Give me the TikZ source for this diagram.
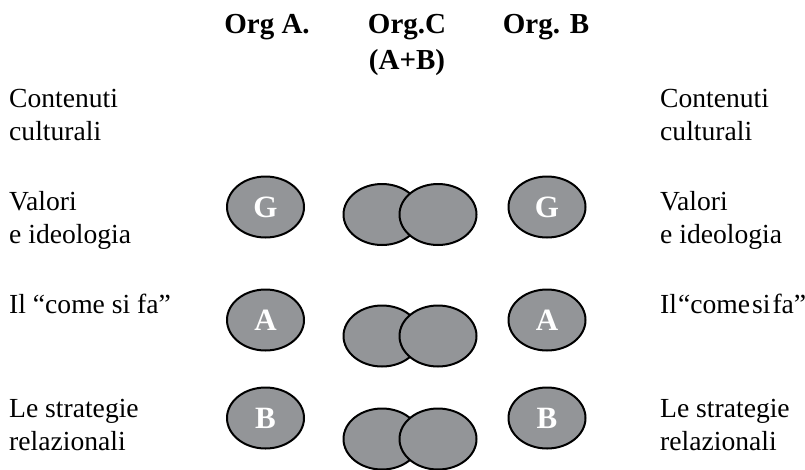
\documentclass[tikz,border=0pt]{standalone}
\usepackage{fontspec}
\setmainfont{Liberation Serif}
\usetikzlibrary{shapes.geometric}
\definecolor{ovalgray}{HTML}{939598}
\tikzset{
  oval/.style={ellipse, draw=black, line width=2pt, fill=ovalgray, minimum width=77pt, minimum height=61pt, inner sep=0pt},
  lettr/.style={text=white, font=\fontsize{31}{34}\selectfont\bfseries},
  head/.style={font=\fontsize{29}{36}\selectfont\bfseries, align=center, anchor=base, inner sep=0pt},
  lbl/.style={font=\fontsize{27.6}{33}\selectfont, align=left, anchor=base west, inner sep=0pt}
}
\begin{document}
\begin{tikzpicture}[x=1pt,y=-1pt]
\useasboundingbox (0,0) rectangle (805,469);
% headers
\node[head] (hA) at (267,33) {Org A.};
\node[head] (hC) at (407,69) {Org.C\\(A+B)};
\node[head] (hB) at (546,33) {Org. B};
% left labels
\node[lbl] (l1) at (9,140) {Contenuti\\culturali};
\node[lbl] (l2) at (9,243) {Valori\\e ideologia};
\node[lbl] (l3) at (9,313) {Il “come si fa”};
\node[lbl] (l4) at (9,450) {Le strategie\\relazionali};
% right labels
\node[lbl] (r1) at (660,140) {Contenuti\\culturali};
\node[lbl] (r2) at (660,243) {Valori\\e ideologia};
\node[lbl] (r3) at (660,313) {Il\kern1pt“come\kern2pt si\kern2pt fa”};
\node[lbl] (r4) at (660,450) {Le strategie\\relazionali};
% row G
\node[oval, lettr] (gA) at (265.5,207) {G};
\node[oval] (gC1) at (382,214.5) {};
\node[oval] (gC2) at (438,214.5) {};
\node[oval, lettr] (gB) at (547,207) {G};
% row A
\node[oval, lettr] (aA) at (265.5,320) {A};
\node[oval] (aC1) at (382,336) {};
\node[oval] (aC2) at (438,336) {};
\node[oval, lettr] (aB) at (547,320) {A};
% row B
\node[oval, lettr] (bA) at (265.5,418) {B};
\node[oval] (bC1) at (382,439) {};
\node[oval] (bC2) at (438,439) {};
\node[oval, lettr] (bB) at (547,418) {B};
\end{tikzpicture}
\end{document}
